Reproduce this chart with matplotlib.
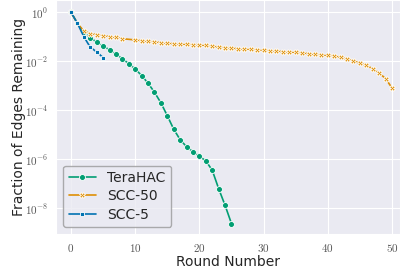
import matplotlib
matplotlib.use("Agg")
import matplotlib.pyplot as plt
import matplotlib.ticker as mticker
import numpy as np
import seaborn as sns

sns.set_style("darkgrid")
plt.rcParams['font.family'] = ['DejaVu Sans']
plt.rcParams['mathtext.fontset'] = 'cm'

# TeraHAC, rounds 0..25
tera_x = list(range(26))
tera_y = [1.0, 0.35, 0.15, 0.091, 0.060, 0.042, 0.029, 0.0195, 0.0126, 0.0079,
          0.0048, 0.0026, 0.00126, 5.4e-4, 2.0e-4, 5.9e-5, 1.66e-5, 6.2e-6,
          3.2e-6, 2.0e-6, 1.29e-6, 8.5e-7, 3.5e-7, 6.2e-8, 1.29e-8, 2.3e-9]

# SCC-50 (round 9 not plotted in the original)
scc50_x = [0, 1, 2, 3, 4, 5, 6, 7, 8] + list(range(10, 51))
scc50_y = [1.0, 0.35, 0.17, 0.135, 0.123, 0.112, 0.102, 0.093, 0.083,
           0.074, 0.069, 0.065, 0.062, 0.058, 0.054, 0.052, 0.051, 0.049, 0.048,
           0.047, 0.044, 0.041, 0.038, 0.036, 0.035, 0.032, 0.0316, 0.031, 0.0295,
           0.0288, 0.0269, 0.0263, 0.0245, 0.024, 0.0229, 0.0219, 0.0204, 0.019,
           0.0186, 0.0174, 0.0166, 0.0145, 0.012, 0.0102, 0.0083, 0.0068, 0.0049,
           0.0033, 0.00195, 0.00081]

# SCC-5
scc5_x = [0, 1, 2, 3, 4, 5]
scc5_y = [1.0, 0.35, 0.1, 0.037, 0.024, 0.014]

pal = sns.color_palette("colorblind")

fig = plt.figure(figsize=(4.0, 2.71), dpi=100)
ax = fig.add_axes([0.14, 0.1365, 0.86, 0.8635])

ax.plot(tera_x, tera_y, marker='o', color=pal[2], lw=1.2, ms=4.3,
        mec='white', mew=0.6, label='TeraHAC')
ax.plot(scc50_x, scc50_y, marker='X', color=pal[1], lw=1.2, ms=4.0,
        mec='white', mew=0.6, label='SCC-50')
ax.plot(scc5_x, scc5_y, marker='s', color=pal[0], lw=1.2, ms=3.2,
        mec='white', mew=0.6, label='SCC-5')

ax.set_yscale('log')
ax.set_xlim(-2.34, 51.25)
ax.set_ylim(10**-9.06, 10**0.5)
ax.set_xticks([0, 10, 20, 30, 40, 50])
ax.set_yticks([1e0, 1e-2, 1e-4, 1e-6, 1e-8])
ax.yaxis.set_minor_locator(mticker.NullLocator())
ax.xaxis.set_major_formatter(mticker.FuncFormatter(lambda v, p: f'${int(v)}$'))
ax.yaxis.set_major_formatter(
    mticker.FuncFormatter(lambda v, p: f'$10^{{{int(round(np.log10(v)))}}}$'))
ax.tick_params(labelsize=8, colors='#555555', pad=2)

ax.set_xlabel('Round Number', fontsize=10, labelpad=1)
ax.set_ylabel('Fraction of Edges Remaining', fontsize=10, labelpad=-1)

leg = ax.legend(loc='lower left', fontsize=10, frameon=True,
                facecolor='#EAEAF2', edgecolor='#999999', framealpha=0.8,
                borderaxespad=0.5, labelspacing=0.3, handlelength=2.0)

fig.savefig('out.png', dpi=100)
